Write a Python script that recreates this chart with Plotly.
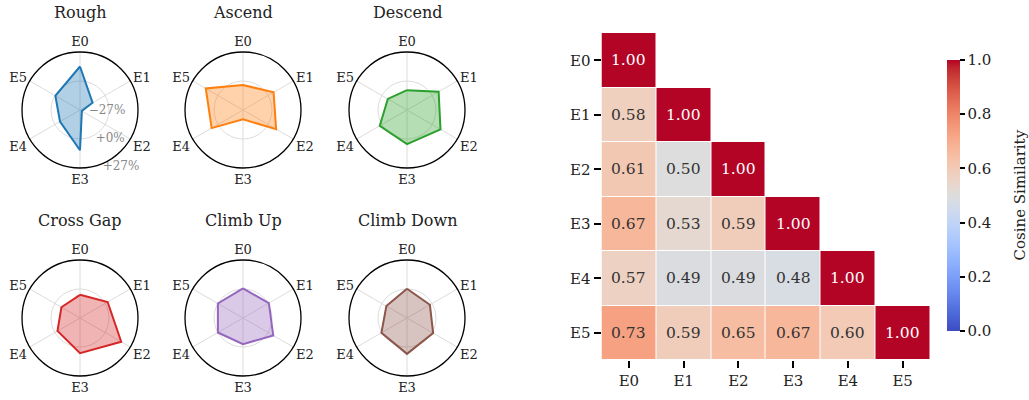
import plotly.graph_objects as go

# ---------------- data ----------------
experts = ["E0", "E1", "E2", "E3", "E4", "E5"]
terrains = ["Rough", "Ascend", "Descend", "Cross Gap", "Climb Up", "Climb Down"]

# relative expert usage deviation (%), per terrain, E0..E5
rough = [13.5, -13.5, -25.0, 10.5, -5.5, -0.5]
ascend = [-3.7, 5.9, 8.6, -18.3, 6.7, 13.0]
descend = [-8.5, 7.0, 9.0, 4.8, 2.3, -6.4]
cross_gap = [-5.4, 2.7, 17.3, 5.8, -2.8, -7.0]
climb_up = [0.5, 0.8, 5.5, -2.7, 0.0, 0.0]
climb_down = [0.2, -2.4, 1.1, 6.4, 0.5, -4.8]
radar_series = [rough, ascend, descend, cross_gap, climb_up, climb_down]

radial_ticks = [-27, 0, 27]
radial_ticktext = ["\u221227%", "+0%", "+27%"]

# cosine similarity, lower triangle rows E0..E5
sim_rows = [
    [1.00],
    [0.58, 1.00],
    [0.61, 0.50, 1.00],
    [0.67, 0.53, 0.59, 1.00],
    [0.57, 0.49, 0.49, 0.48, 1.00],
    [0.73, 0.59, 0.65, 0.67, 0.60, 1.00],
]
cbar_ticks = [0.0, 0.2, 0.4, 0.6, 0.8, 1.0]
cbar_title = "Cosine Similarity"

# ---------------- style ----------------
W, H = 1029, 400
FONT = "DejaVu Serif"
colors = ["#1f77b4", "#ff7f0e", "#2ca02c", "#d62728", "#9467bd", "#8c564b"]
fills = ["rgba(31,119,180,0.35)", "rgba(255,127,14,0.35)", "rgba(44,160,44,0.35)",
         "rgba(214,39,40,0.35)", "rgba(148,103,189,0.35)", "rgba(140,86,75,0.35)"]

coolwarm_pts = [
    (59, 76, 192), (68, 90, 204), (77, 104, 215), (87, 117, 225), (98, 130, 234),
    (108, 142, 241), (119, 154, 247), (130, 165, 251), (141, 176, 254), (152, 185, 255),
    (163, 194, 255), (174, 201, 253), (184, 208, 249), (194, 213, 244), (204, 217, 238),
    (213, 219, 230), (221, 221, 221), (229, 216, 209), (236, 211, 197), (241, 204, 184),
    (245, 196, 172), (247, 187, 159), (247, 177, 147), (247, 166, 134), (244, 154, 123),
    (241, 141, 111), (236, 127, 99), (229, 112, 89), (222, 96, 77), (213, 80, 66),
    (203, 62, 56), (192, 40, 47), (180, 4, 38),
]
coolwarm = [[i / (len(coolwarm_pts) - 1), "rgb(%d,%d,%d)" % c] for i, c in enumerate(coolwarm_pts)]

fig = go.Figure()

# radar layout positions (pixels)
col_cx = [80, 243, 407]
row_cy = [110, 318]
R = 58

annotations = []
for k, (name, vals) in enumerate(zip(terrains, radar_series)):
    r_i, c_i = divmod(k, 3)
    cx, cy = col_cx[c_i], row_cy[r_i]
    pname = "polar" if k == 0 else "polar%d" % (k + 1)
    fig.add_trace(go.Scatterpolar(
        r=vals + vals[:1], theta=experts + experts[:1],
        mode="lines", fill="toself",
        line=dict(color=colors[k], width=2),
        fillcolor=fills[k], subplot=pname, showlegend=False,
    ))
    fig.update_layout({pname: dict(
        domain=dict(x=[(cx - R) / W, (cx + R) / W], y=[(H - cy - R) / H, (H - cy + R) / H]),
        bgcolor="white",
        angularaxis=dict(rotation=90, direction="clockwise", showline=True,
                         linecolor="black", linewidth=1.3, gridcolor="#dcdcdc",
                         gridwidth=1, ticks="", tickfont=dict(family=FONT, size=13, color="#222")),
        radialaxis=dict(range=[-27, 27], tickvals=radial_ticks, ticktext=radial_ticktext,
                        showline=False, gridcolor="#dcdcdc", gridwidth=1, ticks="",
                        angle=-76, tickangle=-76, side="counterclockwise",
                        showticklabels=(k == 0),
                        tickfont=dict(family=FONT, size=12, color="#888")),
    )})
    annotations.append(dict(x=cx / W, y=(H - (cy - 98)) / H, xref="paper", yref="paper",
                            text=name, showarrow=False, xanchor="center", yanchor="middle",
                            font=dict(family=FONT, size=16, color="#222")))

# ---------------- heatmap ----------------
n = len(experts)
z = [[(sim_rows[i][j] if j <= i else None) for j in range(n)] for i in range(n)]
fig.add_trace(go.Heatmap(
    z=z, x=experts, y=experts, zmin=0, zmax=1, colorscale=coolwarm,
    xgap=1, ygap=1, hoverinfo="skip", xaxis="x", yaxis="y",
    colorbar=dict(
        x=937 / W, xanchor="left", y=(H - 195.5) / H, yanchor="middle",
        len=291 / H, lenmode="fraction", thickness=13, outlinewidth=0,
        tickvals=cbar_ticks, tickformat=".1f", ticks="outside", ticklen=5,
        tickwidth=1.5, tickcolor="black",
        tickfont=dict(family=FONT, size=15, color="#222"),
    ),
))
annotations.append(dict(x=1019 / W, y=(H - 195.5) / H, xref="paper", yref="paper",
                        text=cbar_title, textangle=-90, showarrow=False,
                        xanchor="center", yanchor="middle",
                        font=dict(family=FONT, size=15, color="#222")))
for i in range(n):
    for j in range(i + 1):
        v = sim_rows[i][j]
        annotations.append(dict(x=experts[j], y=experts[i], xref="x", yref="y",
                                text="%.2f" % v, showarrow=False,
                                font=dict(family=FONT, size=15.5,
                                          color="white" if v >= 0.9 else "#333333")))

fig.update_layout(
    width=W, height=H, margin=dict(l=0, r=0, t=0, b=0, autoexpand=False),
    paper_bgcolor="white", plot_bgcolor="white",
    xaxis=dict(domain=[601.5 / W, 930 / W], anchor="y", showgrid=False, zeroline=False,
               showline=False, ticks="outside", ticklen=7, tickwidth=1.5, tickcolor="black",
               tickfont=dict(family=FONT, size=15, color="#222"), fixedrange=True,
               automargin=False),
    yaxis=dict(domain=[(H - 360) / H, (H - 33) / H], anchor="x", autorange="reversed",
               showgrid=False, zeroline=False, showline=False, ticks="outside", ticklen=7,
               tickwidth=1.5, tickcolor="black",
               tickfont=dict(family=FONT, size=15, color="#222"), fixedrange=True,
               automargin=False),
    annotations=annotations,
)

fig.write_html("out.html", config={"displayModeBar": False},
               post_script="document.body.style.margin='0';document.body.style.overflow='hidden';")
